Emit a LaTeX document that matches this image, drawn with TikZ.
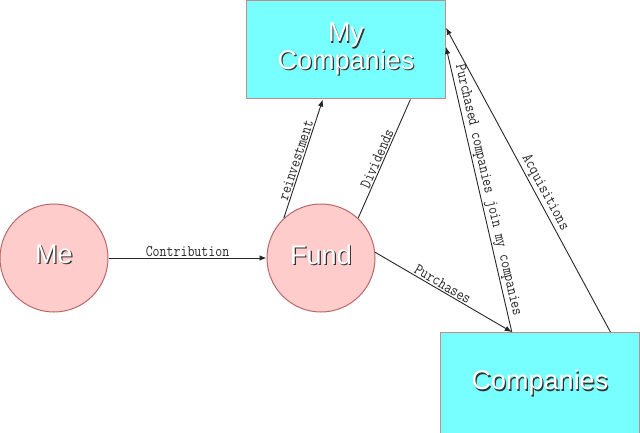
\documentclass[tikz,border=0pt]{standalone}
\usepackage{fontspec}
\usepackage{graphicx}
\setmainfont{Liberation Sans}
\newfontfamily\lblfont{Latin Modern Mono}
\usetikzlibrary{calc,arrows.meta}
\definecolor{boxfill}{RGB}{119,255,255}
\definecolor{boxline}{RGB}{192,140,140}
\definecolor{circfill}{RGB}{255,204,204}
\definecolor{circline}{RGB}{184,104,104}
\definecolor{shadowcol}{RGB}{50,50,50}
\newcommand\shtxt[1]{\makebox[0pt][l]{\kern1.2pt\raisebox{-1.2pt}{\textcolor{shadowcol}{#1}}}#1}
\newcommand\tall[1]{\scalebox{1}[1.2]{#1}}
\begin{document}
\begin{tikzpicture}[x=1pt,y=-1pt,
  box/.style={draw=boxline, fill=boxfill, line width=1pt, minimum width=199pt,
    inner sep=0pt, text=white, font=\fontsize{27}{25}\selectfont, align=center},
  circ/.style={circle, draw=circline, fill=circfill, line width=1pt,
    minimum size=108pt, inner sep=0pt, text=white, text depth=7pt,
    font=\fontsize{27}{25}\selectfont},
  conn/.style={line width=0.9pt, black!85},
  arr/.style={conn, -{Latex[length=7pt,width=5.5pt]}},
  lbl/.style={font=\lblfont\fontsize{13.5}{14}\selectfont, text=black!85,
    inner sep=1.2pt, sloped, above}]
\useasboundingbox (0,0) rectangle (640,433);
\node[circ] (me) at (54,258) {\shtxt{Me}};
\node[circ] (fund) at (321,258) {\shtxt{Fund}};
\node[box, minimum height=98.5pt] (myc) at (346,49.75) {\shtxt{My}\\\shtxt{Companies}};
\node[box, minimum height=102pt] (comp) at (540,383.5) {\shtxt{Companies}};
\coordinate (mycS1) at ($(myc.south west)!0.384!(myc.south east)$);
\coordinate (mycS2) at ($(myc.south west)!0.822!(myc.south east)$);
\coordinate (mycE1) at ($(myc.north east)!0.472!(myc.south east)$);
\coordinate (mycE2) at ($(myc.north east)!0.279!(myc.south east)$);
\coordinate (compN1) at ($(comp.north west)!0.359!(comp.north east)$);
\coordinate (compN2) at ($(comp.north west)!0.852!(comp.north east)$);
\draw[arr] (me.east) -- node[lbl]{\tall{Contribution}} (fund.west);
\draw[arr] (fund.133) -- node[lbl, pos=0.47]{\tall{reinvestment}} (mycS1);
\draw[conn] (fund.47) -- node[lbl, pos=0.48]{\tall{Dividends}} (mycS2);
\draw[arr] (fund.6) -- node[lbl, pos=0.47]{\tall{Purchases}} (compN1);
\draw[arr] (compN1) -- node[lbl, pos=0.49]{\tall{Purchased companies join my companies}} (mycE1);
\draw[arr] (compN2) -- node[lbl, pos=0.444]{\tall{Acquisitions}} (mycE2);
\end{tikzpicture}
\end{document}
